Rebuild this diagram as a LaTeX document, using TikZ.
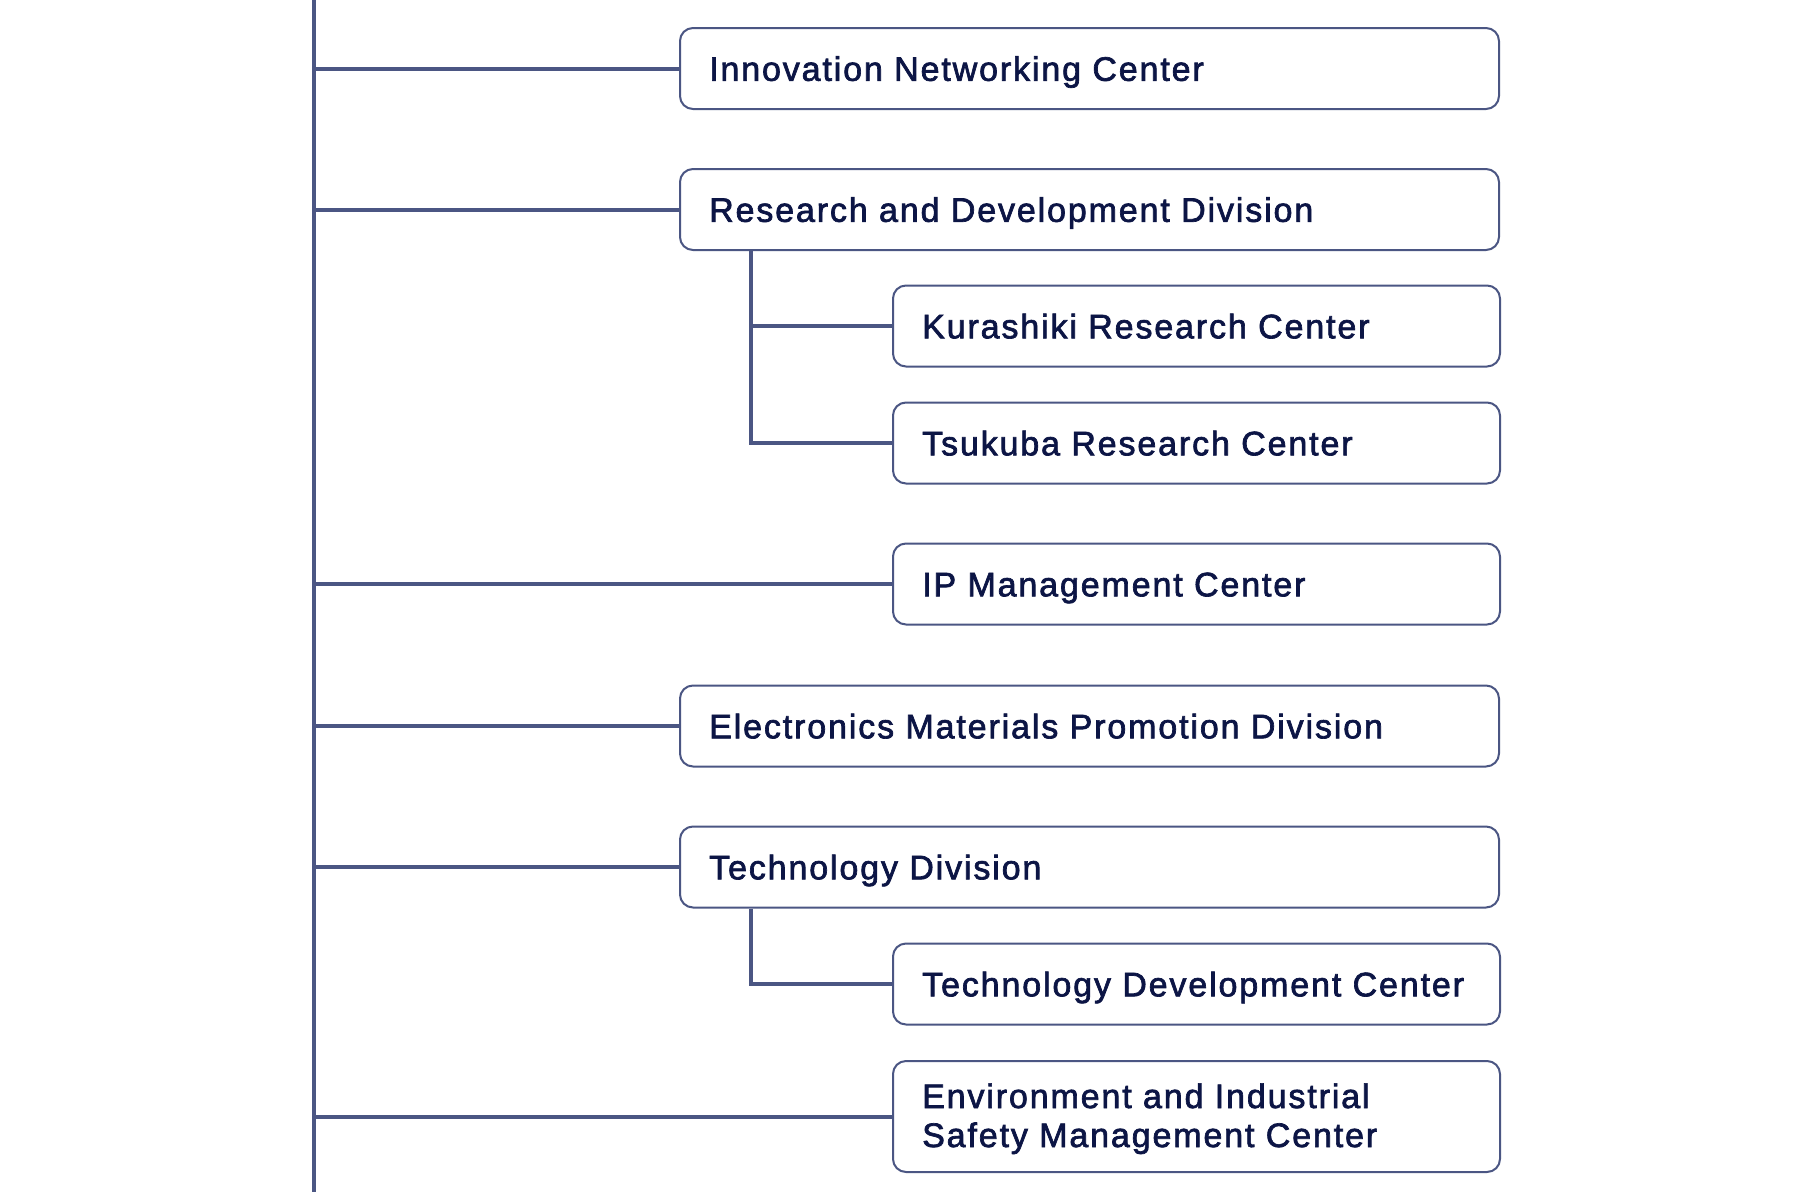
\documentclass[tikz,border=0pt]{standalone}
\usepackage{fontspec}
\setmainfont{Liberation Sans}[LetterSpace=5.5,FakeBold=2]
\definecolor{linec}{HTML}{4B5683}
\definecolor{textc}{HTML}{0C1545}
\begin{document}
\begin{tikzpicture}[x=1pt,y=-1pt,
  box/.style={draw=linec, fill=white, line width=2pt, rounded corners=13pt, minimum height=81pt, inner sep=0pt},
  wide/.style={box, minimum width=819pt},
  narrow/.style={box, minimum width=607pt},
  lbl/.style={anchor=base west, inner sep=0pt, text=textc, font=\fontsize{34}{39}\selectfont, align=left},
  conn/.style={draw=linec, line width=4pt}]
\useasboundingbox (0,0) rectangle (1800,1192);
\coordinate (top) at (314,0);
\coordinate (bot) at (314,1192);
\coordinate (sub) at (751,0);
\draw[conn] (top) -- (bot);
% boxes
\node[wide] (b1) at (1089.5,68.5) {};
\node[wide] (b2) at (1089.5,209.5) {};
\node[narrow] (b3) at (1196.5,326) {};
\node[narrow] (b4) at (1196.5,443) {};
\node[narrow] (b5) at (1196.5,584) {};
\node[wide] (b6) at (1089.5,726) {};
\node[wide] (b7) at (1089.5,867) {};
\node[narrow] (b8) at (1196.5,984) {};
\node[narrow, minimum height=111pt] (b9) at (1196.5,1116.5) {};
% connectors
\foreach \b in {b1,b2,b5,b6,b7,b9} \draw[conn] (top |- \b.west) -- (\b.west);
\draw[conn] (sub |- b2.south) -- (sub |- b4.west) -- (b4.west);
\draw[conn] (sub |- b3.west) -- (b3.west);
\draw[conn] (sub |- b7.south) -- (sub |- b8.west) -- (b8.west);
% labels
\node[lbl] (t1) at ([xshift=30pt,yshift=-12.3pt]b1.west) {Innovation Networking Center};
\node[lbl] (t2) at ([xshift=30pt,yshift=-12.3pt]b2.west) {Research and Development Division};
\node[lbl] (t3) at ([xshift=30pt,yshift=-12.3pt]b3.west) {Kurashiki Research Center};
\node[lbl] (t4) at ([xshift=30pt,yshift=-12.3pt]b4.west) {Tsukuba Research Center};
\node[lbl] (t5) at ([xshift=30pt,yshift=-12.3pt]b5.west) {IP Management Center};
\node[lbl] (t6) at ([xshift=30pt,yshift=-12.3pt]b6.west) {Electronics Materials Promotion Division};
\node[lbl] (t7) at ([xshift=30pt,yshift=-12.3pt]b7.west) {Technology Division};
\node[lbl] (t8) at ([xshift=30pt,yshift=-12.3pt]b8.west) {Technology Development Center};
\node[lbl] (t9) at ([xshift=30pt,yshift=-30.5pt]b9.west) {Environment and Industrial\\Safety Management Center};
\end{tikzpicture}
\end{document}
